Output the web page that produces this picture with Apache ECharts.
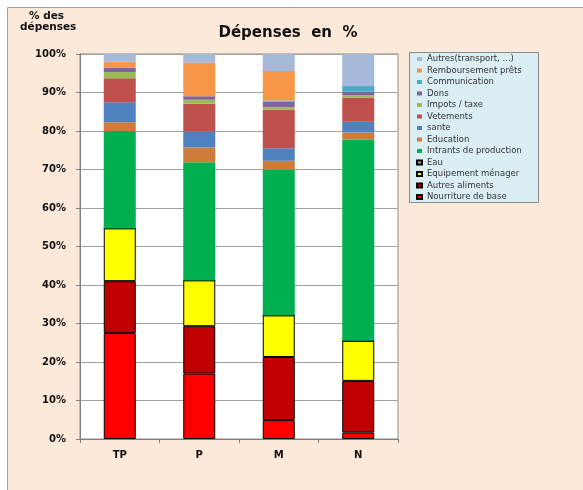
<!DOCTYPE html>
<html>
<head>
<meta charset="utf-8">
<script src="https://cdn.jsdelivr.net/npm/echarts@6/dist/echarts.min.js"></script>
<style>
html,body{margin:0;padding:0;background:#fff;}
#chart{width:583px;height:490px;}
</style>
</head>
<body>
<div id="chart"></div>
<script>
const categories = ['TP', 'P', 'M', 'N'];
const yTicks = [0, 10, 20, 30, 40, 50, 60, 70, 80, 90, 100];

const nourriture   = [27.5, 17.0, 4.9, 1.7];
const autresAlim   = [13.5, 12.3, 16.4, 13.4];
const equipement   = [13.7, 11.9, 10.8, 10.4];
const eau          = [0, 0, 0, 0];
const intrants     = [25.3, 30.7, 37.9, 52.3];
const education    = [2.3, 3.8, 2.3, 1.8];
const sante        = [5.2, 4.2, 3.2, 2.8];
const vetements    = [6.2, 7.2, 10.1, 6.3];
const impots       = [1.6, 1.0, 0.6, 0.6];
const dons         = [1.2, 0.9, 1.4, 0.9];
const communication= [0, 0, 0.3, 1.5];
const remboursement= [1.5, 8.7, 7.7, 0];
const autres       = [2.0, 2.3, 4.4, 8.3];

const seriesDefs = [
  ['Nourriture de base', nourriture, '#FF0000', true],
  ['Autres aliments', autresAlim, '#C00000', true],
  ['Equipement ménager', equipement, '#FFFF00', true],
  ['Eau', eau, '#C896A8', true],
  ['Intrants de production', intrants, '#00B050', false],
  ['Education', education, '#CF7B3A', false],
  ['sante', sante, '#4F81BD', false],
  ['Vetements', vetements, '#C0504D', false],
  ['Impots / taxe', impots, '#9BBB59', false],
  ['Dons', dons, '#8064A2', false],
  ['Communication', communication, '#4BACC6', false],
  ['Remboursement prêts', remboursement, '#F79646', false],
  ['Autres(transport, ...)', autres, '#A7B9D9', false]
];

const chart = echarts.init(document.getElementById('chart'));
const option = {
  animation: false,
  backgroundColor: '#ffffff',
  graphic: [
    { type: 'rect', z: -10, silent: true, shape: { x: 7.5, y: 7.5, width: 590, height: 500 },
      style: { fill: '#FDE9D9', stroke: '#A0A0A0', lineWidth: 1 } },
    { type: 'rect', z: 1, silent: true, shape: { x: 409.5, y: 52.5, width: 129, height: 150 },
      style: { fill: '#DAEEF3', stroke: '#8A8A8A', lineWidth: 1 } },
    { type: 'text', z: 5, left: 29, top: 11,
      style: { text: '% des', fill: '#111', font: 'bold 10.5px "DejaVu Sans"' } },
    { type: 'text', z: 5, left: 20, top: 22,
      style: { text: 'dépenses', fill: '#111', font: 'bold 10.5px "DejaVu Sans"' } }
  ],
  title: {
    text: 'Dépenses  en  %',
    left: 283, top: 21, textAlign: 'center',
    textStyle: { fontFamily: 'DejaVu Sans', fontWeight: 'bold', fontSize: 15, color: '#111' }
  },
  legend: {
    orient: 'vertical',
    left: 416, top: 54,
    padding: 0,
    itemWidth: 5, itemHeight: 4,
    itemGap: 1.5,
    icon: 'rect',
    data: seriesDefs.map(s => s[0]).reverse(),
    textStyle: { fontFamily: 'DejaVu Sans', fontSize: 8.5, color: '#333', lineHeight: 10 }
  },
  grid: {
    left: 80, right: 185, top: 54, bottom: 51,
    show: true, backgroundColor: '#ffffff', borderColor: '#8C8C8C', borderWidth: 1
  },
  xAxis: {
    type: 'category',
    data: categories,
    axisLine: { lineStyle: { color: '#808080' } },
    axisTick: { show: true, length: 4, inside: false, lineStyle: { color: '#808080' } },
    axisLabel: { fontFamily: 'DejaVu Sans', fontWeight: 'bold', fontSize: 10, color: '#111', margin: 11 }
  },
  yAxis: {
    type: 'value',
    min: yTicks[0], max: yTicks[yTicks.length - 1], interval: 10,
    axisLine: { show: true, lineStyle: { color: '#808080' } },
    axisTick: { show: true, length: 4, lineStyle: { color: '#808080' } },
    splitLine: { lineStyle: { color: '#A0A0A0' } },
    axisLabel: { formatter: '{value}%', fontFamily: 'DejaVu Sans', fontWeight: 'bold', fontSize: 10, color: '#111', margin: 14 }
  },
  series: seriesDefs.map(([name, data, color, bordered]) => ({
    name, type: 'bar', stack: 'total', data, barWidth: 32,
    itemStyle: bordered ? { color, borderColor: '#000', borderWidth: 1 } : { color, borderWidth: 0 }
  }))
};
chart.setOption(option);
</script>
</body>
</html>
